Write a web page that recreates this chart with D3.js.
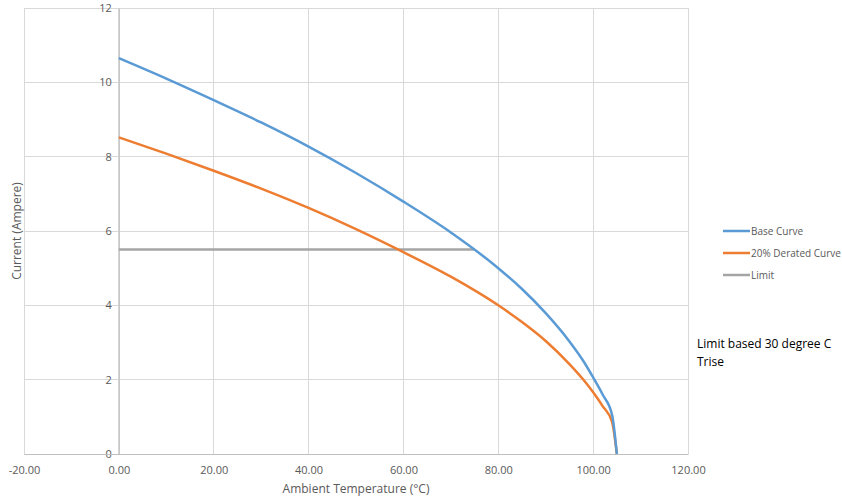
<!DOCTYPE html>
<html>
<head>
<meta charset="utf-8">
<script src="https://cdn.jsdelivr.net/npm/d3@7"></script>
<style>
  html, body { margin: 0; padding: 0; background: #fff; }
  svg { display: block; }
  text { font-family: "Open Sans", "Noto Sans", sans-serif; }
</style>
</head>
<body>
<svg id="chart" width="842" height="500"></svg>
<script>
// ---- data ----
const temperatures = [0, 10, 20, 30, 40, 50, 60, 70, 80, 85, 90, 95, 98, 100, 102, 104, 105];
const baseCurve    = [10.65, 10.10, 9.52, 8.92, 8.27, 7.56, 6.79, 5.96, 5.00, 4.44, 3.79, 3.03, 2.49, 2.06, 1.60, 1.05, 0];
const deratedCurve = [8.52, 8.08, 7.62, 7.14, 6.62, 6.05, 5.43, 4.77, 4.00, 3.55, 3.04, 2.42, 1.99, 1.66, 1.29, 0.86, 0];
const limitTemps   = [0, 75];
const limitValues  = [5.5, 5.5];
const xTicks = [-20, 0, 20, 40, 60, 80, 100, 120];
const yTicks = [0, 2, 4, 6, 8, 10, 12];
const seriesNames = ["Base Curve", "20% Derated Curve", "Limit"];
const seriesColors = ["#5B9BD5", "#ED7D31", "#A5A5A5"];
const noteLines = ["Limit based 30 degree C", "Trise"];

// ---- layout ----
const svg = d3.select("#chart");
const x = d3.scaleLinear().domain([-20, 120]).range([24, 688]);
const y = d3.scaleLinear().domain([0, 12]).range([454, 8]);
const grid = "#D9D9D9";

// gridlines
svg.append("g").selectAll("line").data(xTicks).join("line")
  .attr("x1", d => x(d)).attr("x2", d => x(d))
  .attr("y1", y(0)).attr("y2", y(12))
  .attr("stroke", grid).attr("stroke-width", 1).attr("shape-rendering", "crispEdges");
svg.append("g").selectAll("line").data(yTicks).join("line")
  .attr("x1", x(-20)).attr("x2", x(120))
  .attr("y1", d => y(d)).attr("y2", d => y(d))
  .attr("stroke", grid).attr("stroke-width", 1).attr("shape-rendering", "crispEdges");

// y axis at x = 0
const yAxis = d3.axisLeft(y).tickValues(yTicks).tickSize(0).tickPadding(7).tickFormat(d => String(d));
const ya = svg.append("g").attr("transform", `translate(${x(0)},0)`).call(yAxis);
ya.select(".domain").attr("stroke", "#BFBFBF");
ya.selectAll("text").attr("fill", "#595959").attr("font-size", 11);

// x axis at y = 0
const xAxis = d3.axisBottom(x).tickValues(xTicks).tickSize(0).tickPadding(12).tickFormat(d => d.toFixed(2));
const xa = svg.append("g").attr("transform", `translate(0,${y(0)})`).call(xAxis);
xa.select(".domain").attr("stroke", "#BFBFBF");
xa.selectAll("text").attr("fill", "#595959").attr("font-size", 11);

// axis titles
svg.append("text").attr("x", 356).attr("y", 493).attr("text-anchor", "middle")
  .attr("fill", "#595959").attr("font-size", 12).text("Ambient Temperature (°C)");
svg.append("text").attr("transform", "translate(21,231) rotate(-90)").attr("text-anchor", "middle")
  .attr("fill", "#595959").attr("font-size", 12).text("Current (Ampere)");

// series
const line = d3.line().x(d => x(d[0])).y(d => y(d[1])).curve(d3.curveMonotoneX);
const seriesData = [
  temperatures.map((t, i) => [t, baseCurve[i]]),
  temperatures.map((t, i) => [t, deratedCurve[i]]),
  limitTemps.map((t, i) => [t, limitValues[i]])
];
[2, 1, 0].forEach(i => {
  svg.append("path").datum(seriesData[i]).attr("d", line)
    .attr("fill", "none").attr("stroke", seriesColors[i])
    .attr("stroke-width", 2.5).attr("stroke-linejoin", "round");
});

// legend
const lg = svg.append("g");
seriesNames.forEach((n, i) => {
  const yy = 231 + i * 22;
  lg.append("line").attr("x1", 723).attr("x2", 750).attr("y1", yy).attr("y2", yy)
    .attr("stroke", seriesColors[i]).attr("stroke-width", 2.5);
  lg.append("text").attr("x", 751).attr("y", yy + 3.5).attr("fill", "#595959")
    .attr("font-size", 10).text(n);
});

// note
noteLines.forEach((t, i) => {
  svg.append("text").attr("x", 697).attr("y", 348 + i * 18).attr("fill", "#000")
    .attr("font-size", 12).text(t);
});
</script>
</body>
</html>
